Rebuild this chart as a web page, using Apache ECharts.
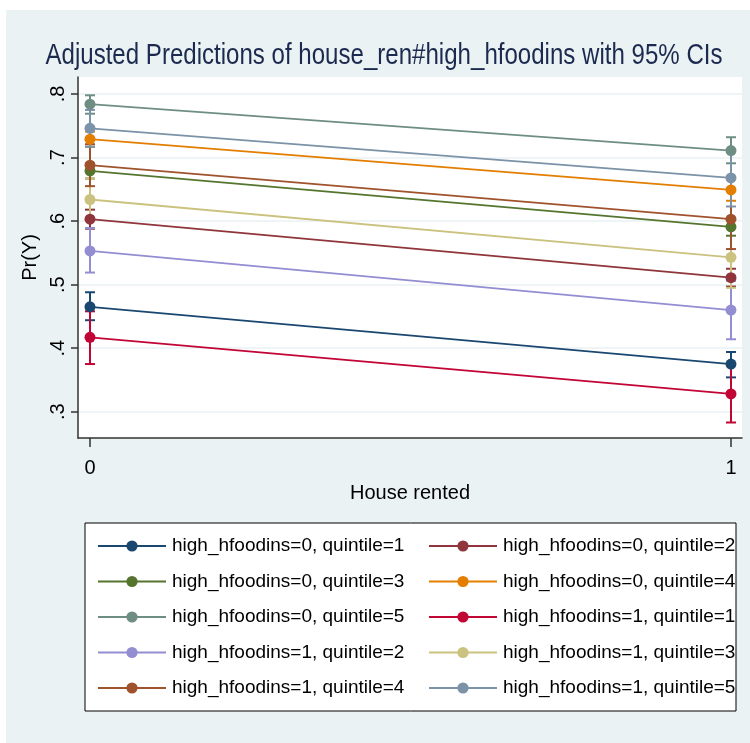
<!DOCTYPE html>
<html>
<head>
<meta charset="utf-8">
<script src="https://cdn.jsdelivr.net/npm/echarts@6/dist/echarts.min.js"></script>
<style>
html,body{margin:0;padding:0;background:#fff;}
#c{width:750px;height:743px;}
</style>
</head>
<body>
<div id="c"></div>
<script>
// ---- data ----
const xValues = [0, 1];
const xTickLabels = ['0', '1'];
const yTicks = [0.3, 0.4, 0.5, 0.6, 0.7, 0.8];
const seriesNames = [
  'high_hfoodins=0, quintile=1', 'high_hfoodins=0, quintile=2',
  'high_hfoodins=0, quintile=3', 'high_hfoodins=0, quintile=4',
  'high_hfoodins=0, quintile=5', 'high_hfoodins=1, quintile=1',
  'high_hfoodins=1, quintile=2', 'high_hfoodins=1, quintile=3',
  'high_hfoodins=1, quintile=4', 'high_hfoodins=1, quintile=5'
];
const h0q1 = [0.465, 0.375], h0q1Lo = [0.444, 0.354], h0q1Hi = [0.488, 0.394];
const h0q2 = [0.603, 0.511], h0q2Lo = [0.588, 0.497], h0q2Hi = [0.618, 0.525];
const h0q3 = [0.679, 0.591], h0q3Lo = [0.667, 0.577], h0q3Hi = [0.691, 0.605];
const h0q4 = [0.729, 0.649], h0q4Lo = [0.717, 0.632], h0q4Hi = [0.741, 0.666];
const h0q5 = [0.784, 0.711], h0q5Lo = [0.769, 0.691], h0q5Hi = [0.798, 0.732];
const h1q1 = [0.417, 0.328], h1q1Lo = [0.375, 0.283], h1q1Hi = [0.458, 0.373];
const h1q2 = [0.553, 0.460], h1q2Lo = [0.519, 0.414], h1q2Hi = [0.589, 0.506];
const h1q3 = [0.634, 0.543], h1q3Lo = [0.601, 0.495], h1q3Hi = [0.667, 0.591];
const h1q4 = [0.688, 0.603], h1q4Lo = [0.655, 0.556], h1q4Hi = [0.721, 0.650];
const h1q5 = [0.746, 0.668], h1q5Lo = [0.717, 0.623], h1q5Hi = [0.775, 0.713];

const seriesValues = [h0q1, h0q2, h0q3, h0q4, h0q5, h1q1, h1q2, h1q3, h1q4, h1q5];
const seriesLows = [h0q1Lo, h0q2Lo, h0q3Lo, h0q4Lo, h0q5Lo, h1q1Lo, h1q2Lo, h1q3Lo, h1q4Lo, h1q5Lo];
const seriesHighs = [h0q1Hi, h0q2Hi, h0q3Hi, h0q4Hi, h0q5Hi, h1q1Hi, h1q2Hi, h1q3Hi, h1q4Hi, h1q5Hi];

// ---- styles ----
const colors = ['#1a476f', '#90353b', '#55752f', '#e37e00', '#6e8e84',
                '#c10534', '#938dd2', '#cac27e', '#a0522d', '#7b92a8'];
const FONT = '"Liberation Sans", Arial, sans-serif';
const panel = '#eaf2f3';

const chart = echarts.init(document.getElementById('c'), null, {renderer: 'canvas'});

const series = [];
// CI caps first
seriesNames.forEach((name, i) => {
  series.push({
    type: 'custom',
    name: name + ' CI',
    z: 2,
    silent: true,
    data: xValues.map((x, k) => [x, seriesLows[i][k], seriesHighs[i][k]]),
    renderItem: function (params, api) {
      const x = api.value(0);
      const p1 = api.coord([x, api.value(1)]);
      const p2 = api.coord([x, api.value(2)]);
      const hw = 5;
      const st = {stroke: colors[i], lineWidth: 2};
      return {
        type: 'group',
        children: [
          {type: 'line', shape: {x1: p1[0], y1: p1[1], x2: p2[0], y2: p2[1]}, style: st},
          {type: 'line', shape: {x1: p1[0] - hw, y1: p1[1], x2: p1[0] + hw, y2: p1[1]}, style: st},
          {type: 'line', shape: {x1: p2[0] - hw, y1: p2[1], x2: p2[0] + hw, y2: p2[1]}, style: st}
        ]
      };
    }
  });
});
seriesNames.forEach((name, i) => {
  series.push({
    type: 'line',
    name: name,
    z: 3,
    data: xValues.map((x, k) => [x, seriesValues[i][k]]),
    symbol: 'circle',
    symbolSize: 11,
    color: colors[i],
    lineStyle: {color: colors[i], width: 1.8},
    itemStyle: {color: colors[i]},
    emphasis: {disabled: true},
    animation: false
  });
});

const legendCommon = {
  orient: 'vertical',
  itemWidth: 68,
  itemHeight: 14,
  itemGap: 15.5,
  selectedMode: false,
  textStyle: {fontFamily: FONT, fontSize: 19, color: '#000', lineHeight: 20, padding: [0, 0, 0, 1]}
};

const option = {
  animation: false,
  backgroundColor: '#fff',
  graphic: [
    {type: 'rect', z: -10, shape: {x: 6, y: 10, width: 744, height: 733}, style: {fill: panel}},
    {type: 'rect', z: 0, shape: {x: 85, y: 523, width: 651, height: 188},
     style: {fill: '#fff', stroke: '#000', lineWidth: 1}},
    {type: 'text', z: 1, x: 384, y: 56, scaleX: 0.83, scaleY: 1,
     style: {text: 'Adjusted Predictions of house_ren#high_hfoodins with 95% CIs',
             font: '29px ' + FONT, fill: '#1c2a50', align: 'center', verticalAlign: 'middle'}}
  ],
  grid: {left: 78, top: 77, right: 8, bottom: 305, show: true, backgroundColor: '#fff', borderWidth: 0, containLabel: false},
  xAxis: {
    type: 'value',
    min: -0.0187, max: 1.0172,
    name: 'House rented', nameLocation: 'middle', nameGap: 45,
    nameTextStyle: {fontFamily: FONT, fontSize: 20, color: '#000'},
    axisLine: {show: true, onZero: false, lineStyle: {color: '#333', width: 1.5}},
    axisTick: {show: true, length: 9, lineStyle: {color: '#333', width: 1.5}, customValues: xValues},
    axisLabel: {customValues: xValues, fontFamily: FONT, fontSize: 20, color: '#000', margin: 20,
                formatter: v => xTickLabels[xValues.indexOf(v)]},
    splitLine: {show: false}
  },
  yAxis: {
    type: 'value',
    min: 0.2586, max: 0.8268,
    name: 'Pr(Y)', nameLocation: 'middle', nameGap: 22, nameRotate: 90,
    nameTextStyle: {fontFamily: FONT, fontSize: 20, color: '#000'},
    axisLine: {show: true, onZero: false, lineStyle: {color: '#333', width: 1.5}},
    axisTick: {show: true, length: 7, lineStyle: {color: '#333', width: 1.5}, customValues: yTicks},
    axisLabel: {customValues: yTicks, rotate: 90, fontFamily: FONT, fontSize: 20, color: '#000', margin: 10,
                formatter: v => '.' + Math.round(v * 10)},
    splitLine: {show: true, lineStyle: {color: panel, width: 1.5}}
  },
  legend: [
    Object.assign({}, legendCommon, {left: 92, top: 531, data: seriesNames.filter((n, i) => i % 2 === 0)}),
    Object.assign({}, legendCommon, {left: 423, top: 531, data: seriesNames.filter((n, i) => i % 2 === 1)})
  ],
  series: series
};
chart.setOption(option);
</script>
</body>
</html>
